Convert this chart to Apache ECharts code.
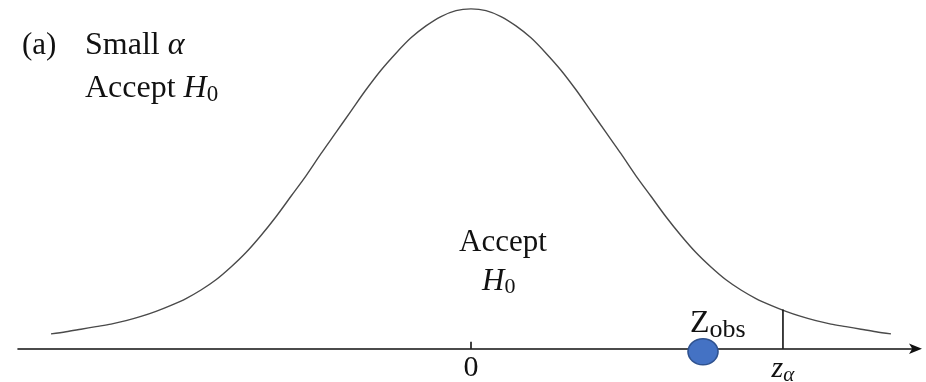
<!DOCTYPE html>
<html>
<head>
<meta charset="utf-8">
<title>Small alpha: accept H0</title>
<script src="https://cdn.jsdelivr.net/npm/echarts@6/dist/echarts.min.js"></script>
<style>
  html, body { margin: 0; padding: 0; background: #ffffff; }
  #chart { width: 926px; height: 382px; }
</style>
</head>
<body>
<div id="chart"></div>
<script>
// Standardised test statistic (z) and the density curve above it
const curveX = [-2.8, -2.7, -2.6, -2.5, -2.4, -2.3, -2.2, -2.1, -2.0, -1.9, -1.8, -1.7, -1.6, -1.5,
                -1.4, -1.3, -1.2, -1.1, -1.0, -0.9, -0.8, -0.7, -0.6, -0.5, -0.4, -0.3, -0.2, -0.1,
                0,
                0.1, 0.2, 0.3, 0.4, 0.5, 0.6, 0.7, 0.8, 0.9, 1.0, 1.1, 1.2, 1.3, 1.4,
                1.5, 1.6, 1.7, 1.8, 1.9, 2.0, 2.1, 2.2, 2.3, 2.4, 2.5, 2.6, 2.7, 2.8];
const curveY = [0.0175, 0.020, 0.023, 0.026, 0.029, 0.033, 0.038, 0.044, 0.051, 0.059, 0.069, 0.081, 0.096, 0.113,
                0.133, 0.155, 0.179, 0.203, 0.229, 0.254, 0.279, 0.304, 0.327, 0.347, 0.365, 0.379, 0.390, 0.397,
                0.399,
                0.397, 0.390, 0.379, 0.365, 0.347, 0.327, 0.304, 0.279, 0.254, 0.229, 0.203, 0.179, 0.155, 0.133,
                0.113, 0.096, 0.081, 0.069, 0.059, 0.051, 0.044, 0.038, 0.033, 0.029, 0.026, 0.023, 0.020, 0.0175];

// Critical value and observed statistic
const zAlpha = 2.08;
const zAlphaDensity = 0.046;
const zObs = 1.547;
const zObsLevel = -0.0035;

// Axis ticks and their labels
const tickValues = [0];
const labelValues = [0, 2.08];
const labelTexts = ['0', '{i|z}{s|α}'];

const serif = '"Liberation Serif", "DejaVu Serif", serif';
const ink = '#111111';

const chart = echarts.init(document.getElementById('chart'), null, { renderer: 'canvas' });

const curveData = curveX.map((x, i) => [x, curveY[i]]);

chart.setOption({
  animation: false,
  backgroundColor: '#ffffff',
  grid: { left: 18, right: 10, top: 8, bottom: 3.4, containLabel: false, outerBoundsMode: 'none' },
  xAxis: {
    type: 'value',
    min: -3.02,
    max: 2.967,
    axisLine: {
      onZero: true,
      symbol: ['none', 'arrow'],
      symbolSize: [8, 13],
      symbolOffset: [0, 6],
      lineStyle: { color: ink, width: 1.6 }
    },
    axisTick: {
      customValues: tickValues,
      inside: true,
      length: 7,
      lineStyle: { color: ink, width: 1.6 }
    },
    axisLabel: { show: false },
    splitLine: { show: false }
  },
  yAxis: {
    type: 'value',
    show: false,
    min: -0.035,
    max: 0.4
  },
  series: [
    {
      name: 'density',
      type: 'line',
      data: curveData,
      smooth: 0.3,
      symbol: 'none',
      lineStyle: { color: '#4a4a4a', width: 1.4 },
      z: 2
    },
    {
      name: 'critical',
      type: 'line',
      data: [[zAlpha, 0], [zAlpha, zAlphaDensity]],
      symbol: 'none',
      lineStyle: { color: ink, width: 1.6 },
      z: 3
    },
    {
      name: 'observed',
      type: 'scatter',
      data: [[zObs, zObsLevel]],
      symbol: 'circle',
      symbolSize: [30, 26],
      clip: false,
      itemStyle: { color: '#4472C4', borderColor: '#2F528F', borderWidth: 1.5, opacity: 1 },
      z: 5
    },
    {
      // tick labels under the axis line
      name: 'tickLabels',
      type: 'scatter',
      data: labelValues.map(v => [v, 0]),
      symbolSize: 0,
      clip: false,
      silent: true,
      itemStyle: { opacity: 1, color: ink },
      label: {
        show: true,
        position: 'bottom',
        distance: 4,
        fontFamily: serif,
        fontSize: 30,
        color: ink,
        opacity: 1,
        formatter: p => labelTexts[p.dataIndex],
        rich: {
          i: { fontFamily: serif, fontStyle: 'italic', fontSize: 30, color: ink },
          s: { fontFamily: serif, fontStyle: 'italic', fontSize: 21, color: ink, padding: [12, 0, 0, 0] }
        }
      },
      z: 4
    }
  ],
  graphic: [
    {
      type: 'text', left: 22, top: 30,
      style: { text: '(a)', font: '31px ' + serif, fill: ink }
    },
    {
      type: 'text', left: 85, top: 30,
      style: {
        text: 'Small {g|α}',
        font: '32px ' + serif, fill: ink,
        rich: { g: { fontFamily: serif, fontStyle: 'italic', fontSize: 32, fill: ink } }
      }
    },
    {
      type: 'text', left: 85, top: 73,
      style: {
        text: 'Accept {h|H}{s|0}',
        font: '32px ' + serif, fill: ink,
        rich: {
          h: { fontFamily: serif, fontStyle: 'italic', fontSize: 32, fill: ink },
          s: { fontFamily: serif, fontSize: 23, fill: ink, padding: [12, 0, 0, 0] }
        }
      }
    },
    {
      type: 'text', left: 459, top: 227,
      style: { text: 'Accept', font: '31px ' + serif, fill: ink }
    },
    {
      type: 'text', left: 482, top: 266,
      style: {
        text: '{h|H}{s|0}',
        rich: {
          h: { fontFamily: serif, fontStyle: 'italic', fontSize: 31, fill: ink },
          s: { fontFamily: serif, fontSize: 22, fill: ink, padding: [12, 0, 0, 0] }
        }
      }
    },
    {
      type: 'text', left: 690, top: 308, z: 10,
      style: {
        text: '{z|Z}{s|obs}',
        rich: {
          z: { fontFamily: serif, fontSize: 32, fill: ink },
          s: { fontFamily: serif, fontSize: 26, fill: ink, padding: [12, 0, 0, 0] }
        }
      }
    }
  ]
});
</script>
</body>
</html>
